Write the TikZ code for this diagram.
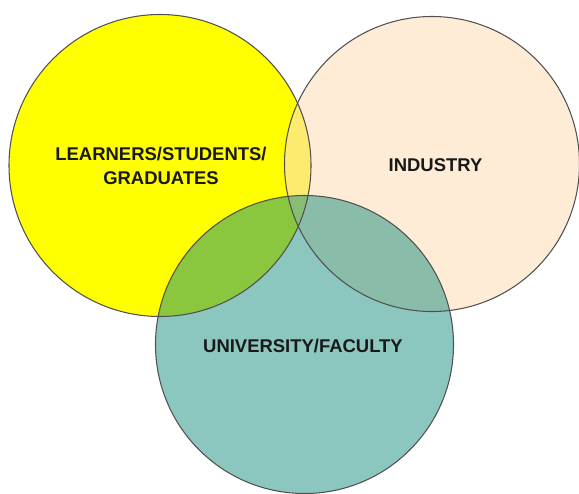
\documentclass[tikz,border=0pt]{standalone}
\usepackage{fontspec}
\setmainfont{Liberation Sans}

\definecolor{learnerYellow}{RGB}{255,255,0}
\definecolor{industryPeach}{RGB}{253,223,187}
\definecolor{facultyTeal}{RGB}{23,143,125}
\definecolor{ringGray}{RGB}{80,80,80}
\definecolor{labelInk}{RGB}{25,25,25}

\tikzset{
  ring/.style={draw=ringGray, line width=0.6pt},
  setlabel/.style={align=center, text=labelInk,
    font=\fontsize{10.5}{13.6}\selectfont\bfseries}
}

\begin{document}
\begin{tikzpicture}

  \useasboundingbox (0,0) rectangle (11.58,9.86);

  % Circle centres
  \coordinate (learners) at (3.20,6.55);
  \coordinate (industry) at (8.64,6.58);
  \coordinate (faculty) at (6.09,2.97);

  % Fills (yellow solid, the other two see-through)
  \fill[learnerYellow] (learners) circle (3.02);
  \fill[industryPeach, fill opacity=0.6] (industry) circle (2.95);
  \fill[facultyTeal, fill opacity=0.5] (faculty) circle (2.98);

  % Outlines on top
  \draw[ring] (learners) circle (3.02);
  \draw[ring] (industry) circle (2.95);
  \draw[ring] (faculty) circle (2.98);

  % Set labels
  \node[setlabel] (learnersLabel) at (3.22,6.54) {LEARNERS/STUDENTS/\\GRADUATES};
  \node[setlabel] (industryLabel) at (8.71,6.55) {INDUSTRY};
  \node[setlabel] (facultyLabel) at (6.06,2.94) {UNIVERSITY/FACULTY};

\end{tikzpicture}
\end{document}
